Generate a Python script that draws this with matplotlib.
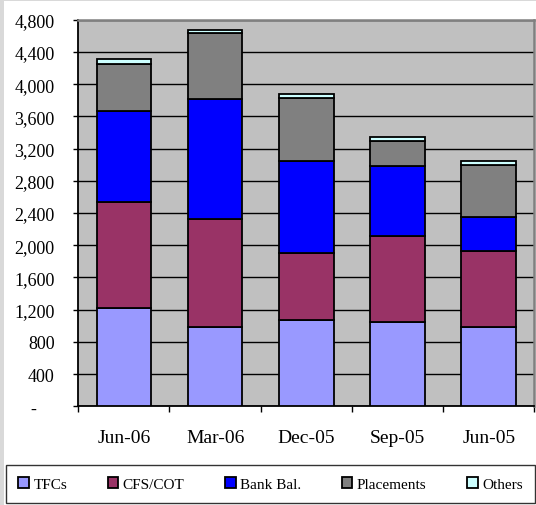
import numpy as np
import matplotlib
matplotlib.use("Agg")
import matplotlib.pyplot as plt
from matplotlib.patches import Rectangle

# Portfolio composition by quarter (Rs. million)
quarters = ["Jun-06", "Mar-06", "Dec-05", "Sep-05", "Jun-05"]
tfcs = [1225, 988, 1071, 1050, 988]
cfs_cot = [1312, 1341, 833, 1067, 941]
bank_bal = [1125, 1481, 1148, 873, 421]
placements = [590, 821, 775, 305, 652]
others = [65, 45, 49, 53, 50]

series = [
    ("TFCs", tfcs, "#9999FF"),
    ("CFS/COT", cfs_cot, "#993366"),
    ("Bank Bal.", bank_bal, "#0000FF"),
    ("Placements", placements, "#808080"),
    ("Others", others, "#CCFFFF"),
]

y_ticks = np.arange(0, 4801, 400)

plt.rcParams["font.family"] = ["Liberation Serif", "DejaVu Serif"]

fig = plt.figure(figsize=(5.36, 5.06), dpi=100, facecolor="white")
# thin grey frame on left and top
fig.patches.append(Rectangle((0, 0), 4 / 536, 1, transform=fig.transFigure,
                             facecolor="#d9d9d9", edgecolor="none", zorder=0))
fig.patches.append(Rectangle((0, 1 - 2 / 506), 1, 2 / 506, transform=fig.transFigure,
                             facecolor="#d9d9d9", edgecolor="none", zorder=0))

ax = fig.add_axes([0.146, 0.195, 0.851, 0.764])
ax.set_facecolor("#C0C0C0")

x = np.arange(len(quarters))
bottom = np.zeros(len(quarters))
for name, vals, col in series:
    ax.bar(x, vals, width=0.6, bottom=bottom, color=col, edgecolor="black",
           linewidth=1.3, label=name, zorder=3)
    bottom += np.array(vals)

ax.set_xlim(-0.5, len(quarters) - 0.5)
ax.set_ylim(0, 4800)

ax.set_yticks(y_ticks)
ax.set_yticklabels(["-    "] + [f"{v:,}" for v in y_ticks[1:]], fontsize=13)
ax.tick_params(axis="y", direction="out", length=3.6, width=1, pad=13.5, colors="black")
ax.yaxis.grid(True, color="black", linewidth=1.0, zorder=1)

# category boundaries get the tick marks, centres get the labels
ax.set_xticks(np.arange(-0.5, len(quarters), 1.0))
ax.set_xticklabels([])
ax.set_xticks(x, minor=True)
ax.set_xticklabels(quarters, minor=True, fontsize=14)
ax.tick_params(axis="x", which="major", direction="out", length=4.5, width=1)
ax.tick_params(axis="x", which="minor", length=0, pad=16)

for side in ["left", "bottom"]:
    ax.spines[side].set_color("black")
    ax.spines[side].set_linewidth(1.3)
for side in ["top", "right"]:
    ax.spines[side].set_color("#808080")
    ax.spines[side].set_linewidth(1.8)

leg = fig.legend(loc="lower left", bbox_to_anchor=(6 / 536, 2 / 506, 529 / 536, 38 / 506),
                 mode="expand", ncol=5, frameon=True, fancybox=False,
                 edgecolor="black", fontsize=11, handlelength=0.7, handleheight=0.7,
                 handletextpad=0.3, borderaxespad=0, borderpad=0.8)
leg.get_frame().set_linewidth(1.0)

fig.savefig("out.png", dpi=100, facecolor="white")
